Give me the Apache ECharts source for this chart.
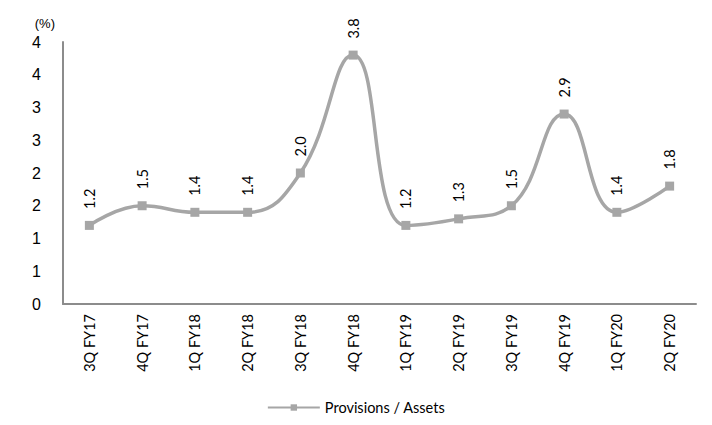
<!DOCTYPE html>
<html>
<head>
<meta charset="utf-8">
<script src="https://cdn.jsdelivr.net/npm/echarts@6/dist/echarts.min.js"></script>
<style>
  html, body { margin: 0; padding: 0; background: #fff; }
  #chart { width: 712px; height: 425px; }
</style>
</head>
<body>
<div id="chart"></div>
<script>
// Quarters on the x axis
const quarters = ['3Q FY17', '4Q FY17', '1Q FY18', '2Q FY18', '3Q FY18', '4Q FY18',
  '1Q FY19', '2Q FY19', '3Q FY19', '4Q FY19', '1Q FY20', '2Q FY20'];
// Provisions / Assets (%)
const provisions = [1.2, 1.5, 1.4, 1.4, 2.0, 3.8, 1.2, 1.3, 1.5, 2.9, 1.4, 1.8];

const font = 'Lato, "DejaVu Sans", sans-serif';

let chart = echarts.init(document.getElementById('chart'), null, { renderer: 'svg' });

chart.setOption({
  animation: false,
  grid: { left: 63, right: 16, top: 42, bottom: 121 },
  xAxis: {
    type: 'category',
    data: quarters,
    boundaryGap: true,
    axisLine: { lineStyle: { color: '#8c8c8c', width: 2 } },
    axisTick: { show: false },
    axisLabel: { rotate: 90, margin: 10, color: '#000', fontSize: 14.5, fontFamily: font }
  },
  yAxis: {
    type: 'value',
    min: 0,
    max: 4,
    interval: 0.5,
    name: '(%)',
    nameLocation: 'end',
    nameGap: 12,
    nameTextStyle: { color: '#000', fontSize: 13, fontFamily: 'Arial, "Liberation Sans", sans-serif', align: 'right', padding: [0, 8, 0, 0] },
    splitLine: { show: false },
    axisLine: { show: true, lineStyle: { color: '#8c8c8c', width: 2 } },
    axisTick: { show: false },
    axisLabel: {
      color: '#000', fontSize: 16, margin: 22,
      fontFamily: 'Arial, "Liberation Sans", sans-serif',
      formatter: v => String(Math.round(v))
    }
  },
  legend: {
    bottom: 5,
    left: 'center',
    itemWidth: 52,
    itemHeight: 8,
    itemGap: 4,
    textStyle: { color: '#000', fontSize: 14.5, fontFamily: font },
    data: ['Provisions / Assets']
  },
  series: [
    {
      name: 'Provisions / Assets',
      type: 'line',
      data: provisions,
      smooth: 0.45,
      symbol: 'rect',
      symbolSize: 9,
      lineStyle: { color: '#a6a6a6', width: 3.5 },
      itemStyle: { color: '#a6a6a6' },
      label: {
        show: true,
        position: 'top',
        rotate: 90,
        distance: 12,
        align: 'left',
        verticalAlign: 'middle',
        color: '#000',
        fontSize: 14.5,
        fontFamily: font,
        formatter: p => p.value.toFixed(1)
      }
    }
  ]
});
</script>
</body>
</html>
